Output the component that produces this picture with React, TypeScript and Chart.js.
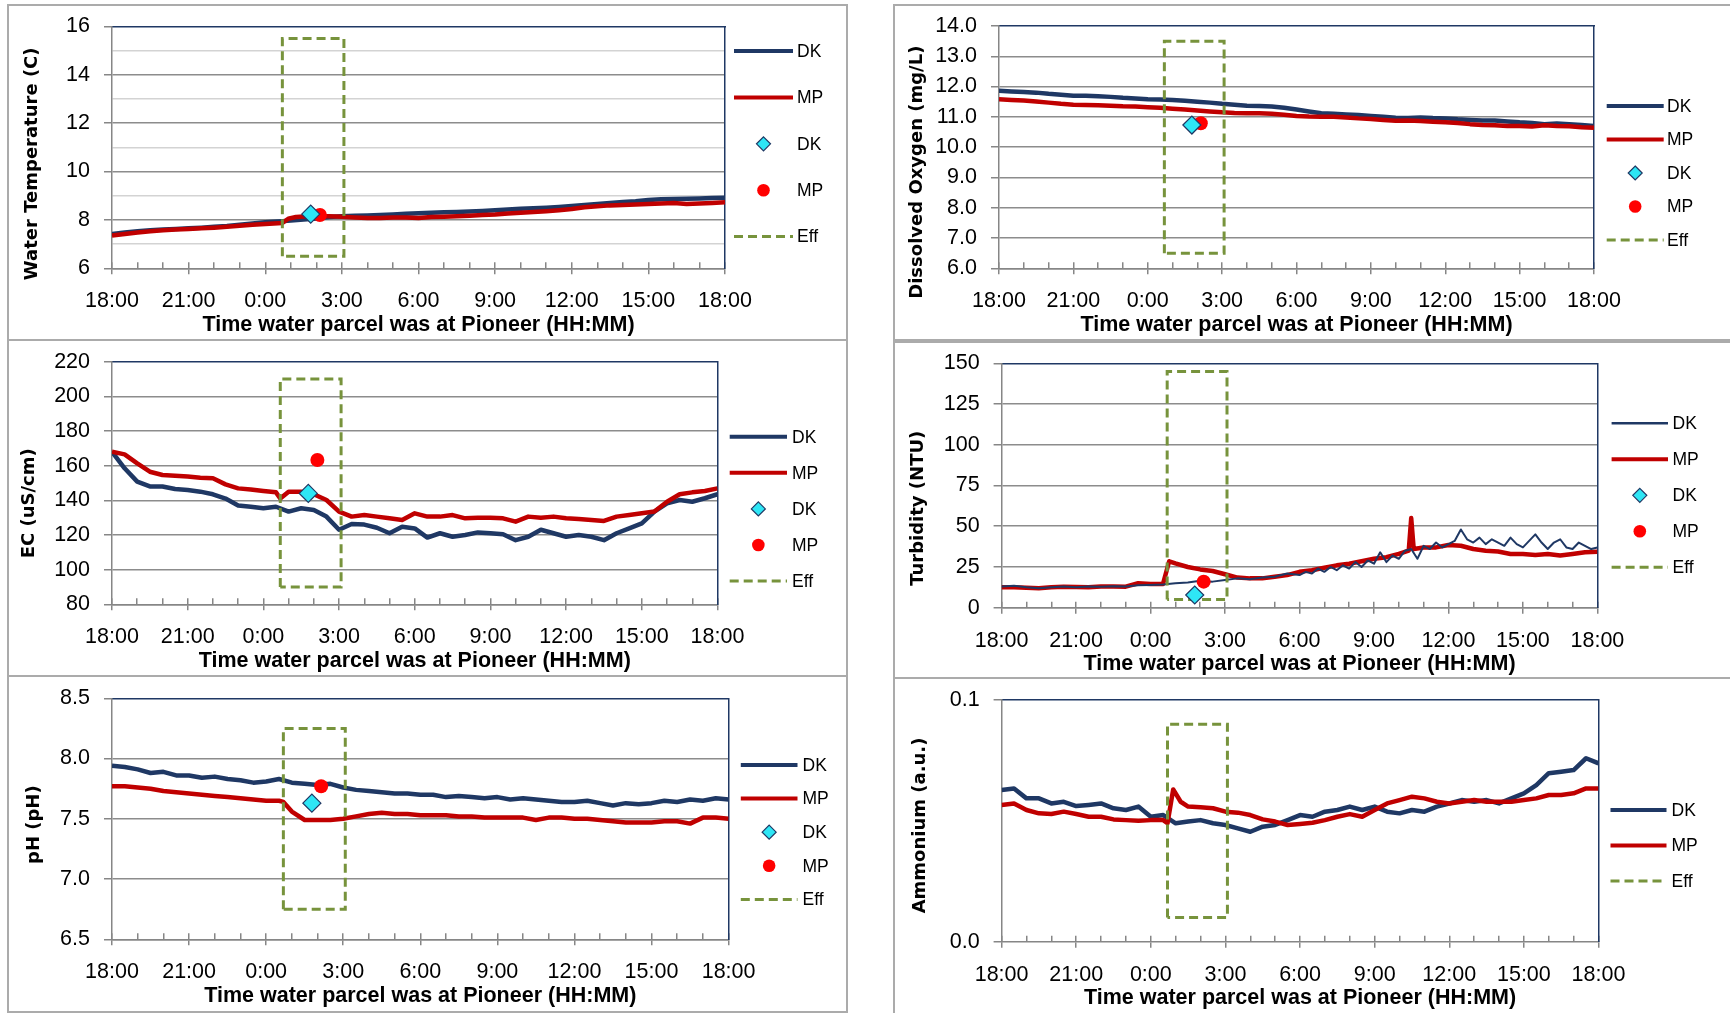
import React, { useEffect, useRef } from 'react';
import { Chart, registerables } from 'chart.js';
Chart.register(...registerables);

// ---------------- shared axis data ----------------
const HOURS = [0, 0.5, 1, 1.5, 2, 2.5, 3, 3.5, 4, 4.5, 5, 5.5, 6, 6.5, 7, 7.5, 8, 8.5, 9, 9.5, 10, 10.5, 11, 11.5, 12, 12.5, 13, 13.5, 14, 14.5, 15, 15.5, 16, 16.5, 17, 17.5, 18, 18.5, 19, 19.5, 20, 20.5, 21, 21.5, 22, 22.5, 23, 23.5, 24];
const X_TICK_LABELS = ['18:00', '21:00', '0:00', '3:00', '6:00', '9:00', '12:00', '15:00', '18:00'];
const X_TITLE = 'Time water parcel was at Pioneer (HH:MM)';
const EFF_HOURS = [6.67, 6.67, 9.08, 9.08, 6.67];
const GRAB_HOURS = [7.78, 8.14]; // DK, MP grab samples

// ---------------- Water temperature ----------------
const TEMP_DK = [7.42, 7.48, 7.53, 7.57, 7.6, 7.62, 7.65, 7.68, 7.72, 7.75, 7.8, 7.85, 7.9, 7.93, 7.97, 8.02, 8.06, 8.12, 8.15, 8.17, 8.18, 8.2, 8.22, 8.25, 8.27, 8.3, 8.32, 8.33, 8.35, 8.37, 8.4, 8.43, 8.46, 8.48, 8.5, 8.53, 8.57, 8.62, 8.66, 8.7, 8.74, 8.77, 8.82, 8.85, 8.86, 8.87, 8.88, 8.9, 8.92];
const TEMP_MP_HOURS = [0, 0.5, 1, 1.5, 2, 2.5, 3, 3.5, 4, 4.5, 5, 5.5, 6, 6.5, 6.67, 6.9, 7.2, 7.5, 8, 8.5, 9, 9.5, 10, 10.5, 11, 11.5, 12, 12.5, 13, 13.5, 14, 14.5, 15, 15.5, 16, 16.5, 17, 17.5, 18, 18.5, 19, 19.5, 20, 20.5, 21, 21.5, 22, 22.5, 23, 23.5, 24];
const TEMP_MP = [7.35, 7.42, 7.48, 7.53, 7.57, 7.6, 7.62, 7.65, 7.68, 7.72, 7.76, 7.8, 7.83, 7.86, 7.87, 8.05, 8.12, 8.14, 8.15, 8.15, 8.13, 8.1, 8.08, 8.08, 8.1, 8.1, 8.08, 8.12, 8.13, 8.15, 8.17, 8.2, 8.22, 8.26, 8.3, 8.33, 8.36, 8.4, 8.45, 8.52, 8.56, 8.6, 8.62, 8.64, 8.66, 8.68, 8.7, 8.66, 8.68, 8.7, 8.73];
const TEMP_GRAB = [8.24, 8.2];
const TEMP_EFF = [6.5, 15.5, 15.5, 6.5, 6.5];

// ---------------- Dissolved oxygen ----------------
const DO_DK = [11.86, 11.84, 11.82, 11.8, 11.76, 11.73, 11.7, 11.7, 11.68, 11.66, 11.63, 11.61, 11.58, 11.57, 11.56, 11.53, 11.5, 11.47, 11.43, 11.4, 11.37, 11.36, 11.34, 11.3, 11.24, 11.18, 11.12, 11.1, 11.08, 11.06, 11.03, 11.0, 10.97, 10.96, 10.98, 10.96, 10.95, 10.92, 10.9, 10.88, 10.88, 10.85, 10.82, 10.8, 10.76, 10.78, 10.76, 10.73, 10.7];
const DO_MP = [11.58, 11.56, 11.54, 11.51, 11.47, 11.43, 11.4, 11.39, 11.38, 11.37, 11.35, 11.34, 11.32, 11.3, 11.27, 11.24, 11.21, 11.18, 11.15, 11.13, 11.12, 11.12, 11.1, 11.07, 11.03, 11.01, 11.0, 11.0, 10.98, 10.95, 10.93, 10.9, 10.87, 10.88, 10.86, 10.84, 10.82, 10.8, 10.76, 10.73, 10.72, 10.7, 10.7, 10.68, 10.72, 10.7, 10.69, 10.66, 10.64];
const DO_GRAB = [10.73, 10.79];
const DO_EFF = [6.5, 13.5, 13.5, 6.5, 6.5];

// ---------------- EC ----------------
const EC_DK = [168, 158.5, 150.8, 148, 148, 146.5, 146, 145, 143.5, 141, 137, 136.3, 135.4, 136.3, 133.5, 135.4, 134.4, 130.6, 123, 126.3, 126, 124.2, 121, 124.8, 123.8, 118.5, 121, 119, 120, 121.5, 121, 120.4, 117, 119, 123, 121, 119, 120, 119, 117, 121, 123.8, 126.7, 133.5, 138.3, 140.2, 139.2, 141.2, 143.5];
const EC_MP_HOURS = [0, 0.5, 1, 1.5, 2, 2.5, 3, 3.5, 4, 4.5, 5, 5.5, 6, 6.5, 6.67, 7, 7.5, 8, 8.5, 9, 9.5, 10, 10.5, 11, 11.5, 12, 12.5, 13, 13.5, 14, 14.5, 15, 15.5, 16, 16.5, 17, 17.5, 18, 18.5, 19, 19.5, 20, 20.5, 21, 21.5, 22, 22.5, 23, 23.5, 24];
const EC_MP = [168, 166.5, 161.3, 156.5, 154.6, 154.2, 153.7, 153, 152.7, 149.2, 146.9, 146.3, 145.4, 144.6, 141, 145, 145, 143.5, 140.2, 133.5, 130.6, 131.5, 130.6, 129.6, 128.7, 132.5, 130.6, 130.6, 131.5, 129.6, 130, 130, 129.6, 127.7, 130.6, 130, 130.6, 129.6, 129.2, 128.7, 128.1, 130.6, 131.5, 132.5, 133.5, 139.2, 143.5, 144.6, 145.4, 146.9];
const EC_GRAB = [144, 163.3];
const EC_EFF = [90, 210, 210, 90, 90];

// ---------------- Turbidity ----------------
const TURB_DK_HOURS = [0, 0.5, 1, 1.5, 2, 2.5, 3, 3.5, 4, 4.5, 5, 5.5, 6, 6.5, 7, 7.5, 8, 8.5, 9, 9.5, 10, 10.5, 11, 11.5, 12, 12.25, 12.5, 12.75, 13, 13.25, 13.5, 13.75, 14, 14.25, 14.5, 14.75, 15, 15.25, 15.5, 15.75, 16, 16.25, 16.5, 16.75, 17, 17.25, 17.5, 17.75, 18, 18.25, 18.5, 18.75, 19, 19.25, 19.5, 19.75, 20, 20.25, 20.5, 20.75, 21, 21.25, 21.5, 21.75, 22, 22.25, 22.5, 22.75, 23, 23.25, 23.5, 23.75, 24];
const TURB_DK = [13, 13.5, 12.5, 12, 12.5, 13, 12.5, 13, 12.8, 13.2, 13, 13.8, 14, 14.2, 15, 15.5, 16.5, 16, 17, 18, 17.5, 18.5, 19, 21, 20, 22, 21, 24, 22, 25, 23, 26, 24, 28, 25, 29, 27, 34, 28, 32, 30, 35, 36, 30, 38, 36, 40, 37, 39, 41, 48, 42, 40, 43, 39, 42, 40, 38, 43, 39, 37, 41, 45, 40, 36, 40, 42, 37, 36, 40, 38, 36, 37];
const TURB_MP_HOURS = [0, 0.5, 1, 1.5, 2, 2.5, 3, 3.5, 4, 4.5, 5, 5.5, 6, 6.5, 6.75, 7, 7.5, 8, 8.5, 9, 9.5, 10, 10.5, 11, 11.5, 12, 12.5, 13, 13.5, 14, 14.5, 15, 15.5, 16, 16.4, 16.5, 16.6, 17, 17.5, 18, 18.5, 19, 19.5, 20, 20.5, 21, 21.5, 22, 22.5, 23, 23.5, 24];
const TURB_MP = [12.5, 12.5, 12.3, 12, 12.5, 12.8, 12.7, 12.5, 13, 13, 12.9, 15, 14.5, 14.5, 28.5, 27.2, 25, 23.5, 22.5, 20.5, 18.5, 18, 18, 19, 20, 22, 23, 24.5, 26, 27, 28.5, 30, 31, 33, 35, 55, 36, 37, 37, 38.5, 38, 36, 35, 34.5, 33, 33, 32.3, 33, 32, 33, 34, 34.4];
const TURB_GRAB = [7.8, 16];
const TURB_EFF = [5, 145, 145, 5, 5];

// ---------------- pH ----------------
const PH_DK = [7.94, 7.93, 7.91, 7.88, 7.89, 7.86, 7.86, 7.84, 7.85, 7.83, 7.82, 7.8, 7.81, 7.83, 7.8, 7.79, 7.78, 7.79, 7.76, 7.74, 7.73, 7.72, 7.71, 7.71, 7.7, 7.7, 7.68, 7.69, 7.68, 7.67, 7.68, 7.66, 7.67, 7.66, 7.65, 7.64, 7.64, 7.65, 7.63, 7.61, 7.63, 7.62, 7.63, 7.65, 7.64, 7.66, 7.65, 7.67, 7.66];
const PH_MP_HOURS = [0, 0.5, 1, 1.5, 2, 2.5, 3, 3.5, 4, 4.5, 5, 5.5, 6, 6.5, 6.67, 7, 7.5, 8, 8.5, 9, 9.5, 10, 10.5, 11, 11.5, 12, 12.5, 13, 13.5, 14, 14.5, 15, 15.5, 16, 16.5, 17, 17.5, 18, 18.5, 19, 19.5, 20, 20.5, 21, 21.5, 22, 22.5, 23, 23.5, 24];
const PH_MP = [7.77, 7.77, 7.76, 7.75, 7.73, 7.72, 7.71, 7.7, 7.69, 7.68, 7.67, 7.66, 7.65, 7.65, 7.64, 7.56, 7.49, 7.49, 7.49, 7.5, 7.52, 7.54, 7.55, 7.54, 7.54, 7.53, 7.53, 7.53, 7.52, 7.52, 7.51, 7.51, 7.51, 7.51, 7.49, 7.51, 7.51, 7.5, 7.5, 7.49, 7.48, 7.47, 7.47, 7.47, 7.48, 7.48, 7.46, 7.51, 7.51, 7.5];
const PH_GRAB = [7.63, 7.77];
const PH_EFF = [6.75, 8.25, 8.25, 6.75, 6.75];

// ---------------- Ammonium ----------------
const NH4_DK = [0.0628, 0.0634, 0.0593, 0.0593, 0.0572, 0.0579, 0.0561, 0.0566, 0.0572, 0.0552, 0.0545, 0.0559, 0.0517, 0.0524, 0.049, 0.0497, 0.0503, 0.049, 0.0483, 0.0469, 0.0455, 0.0476, 0.0483, 0.0503, 0.0524, 0.0517, 0.0538, 0.0545, 0.0559, 0.0545, 0.0559, 0.0538, 0.0531, 0.0545, 0.0538, 0.0559, 0.0572, 0.0586, 0.0579, 0.0586, 0.0572, 0.0593, 0.0614, 0.0648, 0.0697, 0.0703, 0.071, 0.0759, 0.0738];
const NH4_MP_HOURS = [0, 0.5, 1, 1.5, 2, 2.5, 3, 3.5, 4, 4.5, 5, 5.5, 6, 6.5, 6.67, 6.9, 7.2, 7.5, 8, 8.5, 9, 9.5, 10, 10.5, 11, 11.5, 12, 12.5, 13, 13.5, 14, 14.5, 15, 15.5, 16, 16.5, 17, 17.5, 18, 18.5, 19, 19.5, 20, 20.5, 21, 21.5, 22, 22.5, 23, 23.5, 24];
const NH4_MP = [0.0566, 0.0572, 0.0545, 0.0531, 0.0528, 0.0538, 0.0528, 0.0517, 0.0517, 0.0506, 0.0503, 0.05, 0.0503, 0.0503, 0.049, 0.063, 0.0579, 0.0559, 0.0556, 0.0552, 0.0538, 0.0534, 0.0524, 0.0506, 0.0497, 0.0483, 0.0487, 0.0492, 0.0503, 0.0517, 0.0528, 0.0517, 0.0545, 0.0572, 0.0586, 0.06, 0.0593, 0.0579, 0.0572, 0.0579, 0.0586, 0.0579, 0.0579, 0.0579, 0.0586, 0.0593, 0.0607, 0.0607, 0.0614, 0.0634, 0.0634];
const NH4_EFF = [0.01, 0.09, 0.09, 0.01, 0.01];

// ---------------- styles ----------------
const NAVY = '#1F3864';
const RED = '#C00000';
const CYAN = '#2EE6F5';
const DOT_RED = '#FF0000';
const EFF_GREEN = '#77933C';
const AXIS_GRAY = '#868686';
const GRID_GRAY = '#8C8C8C';
const GRID_LIGHT = '#D3D3D3';
const SANS = '"Liberation Sans", Arial, sans-serif';
const PAGE_W = 1730;
const X_AXIS_H = 66.6;
const LINE_W = 4.5;

const pts = (xs: number[], ys: number[]) => xs.map((x, i) => ({ x, y: ys[i] }));

function lineDs(label: string, xs: number[], ys: number[], color: string, width: number, order: number) {
  return {
    label, data: pts(xs, ys), showLine: true, borderColor: color, backgroundColor: color,
    borderWidth: width, pointRadius: 0, pointHoverRadius: 0, tension: 0, order,
    borderJoinStyle: 'round', legendWidth: width >= 4 ? 4 : 2.5,
  };
}
function grabDs(label: string, x: number, y: number, kind: 'diamond' | 'circle') {
  const diamond = kind === 'diamond';
  return {
    label, data: [{ x, y }], showLine: false,
    pointStyle: diamond ? 'rectRot' : 'circle',
    pointRadius: diamond ? 9 : 7, pointHoverRadius: diamond ? 9 : 7,
    backgroundColor: diamond ? CYAN : DOT_RED, borderColor: diamond ? NAVY : DOT_RED,
    borderWidth: diamond ? 1.2 : 0, order: 1, legendRadius: diamond ? 7 : 6.3,
  };
}
function effDs(ys: number[]) {
  return {
    label: 'Eff', data: pts(EFF_HOURS, ys), showLine: true, borderColor: EFF_GREEN,
    backgroundColor: EFF_GREEN, borderWidth: 3, borderDash: [9, 5], pointRadius: 0,
    pointHoverRadius: 0, tension: 0, order: 2, borderJoinStyle: 'miter', legendWidth: 3,
  };
}
function standard(dk: any, mp: any, grab: number[] | null, eff: number[]) {
  const list: any[] = [dk, mp];
  if (grab) {
    list.push(grabDs('DK', GRAB_HOURS[0], grab[0], 'diamond'));
    list.push(grabDs('MP', GRAB_HOURS[1], grab[1], 'circle'));
  }
  list.push(effDs(eff));
  return list;
}

type Spec = {
  frame: number[]; plot: number[];
  yMin: number; yMax: number; yStep: number;
  yLabel: (v: number) => string;
  gridColor: (v: number, max: number) => string;
  tickColor: (v: number) => string;
  title: string; titlePos: number[];
  legend: number[]; // lineX0, lineX1, textX, firstY, spacing (page coords)
  datasets: any[];
};

const near = (a: number, b: number) => Math.abs(a - b) < 1e-6;
const plainGrid = (v: number, max: number) => (near(v, max) ? 'rgba(0,0,0,0)' : GRID_GRAY);
const allTicks = () => AXIS_GRAY;

const SPECS: Spec[] = [
  {
    frame: [7, 4, 841, 337], plot: [112, 26.3, 725, 268.3],
    yMin: 6, yMax: 16, yStep: 1,
    yLabel: (v) => (Math.round(v) % 2 === 0 ? String(Math.round(v)) : ''),
    gridColor: (v, max) => (near(v, max) ? 'rgba(0,0,0,0)' : Math.round(v) % 2 === 0 ? GRID_GRAY : GRID_LIGHT),
    tickColor: (v) => (Math.round(v) % 2 === 0 ? AXIS_GRAY : 'rgba(0,0,0,0)'),
    title: 'Water Temperature (C)', titlePos: [32.5, 163.8],
    legend: [734, 793, 797, 51, 46.4],
    datasets: standard(lineDs('DK', HOURS, TEMP_DK, NAVY, LINE_W, 4), lineDs('MP', TEMP_MP_HOURS, TEMP_MP, RED, LINE_W, 3), TEMP_GRAB, TEMP_EFF),
  },
  {
    frame: [893, 4, 900, 337], plot: [999, 26, 1594, 268.3],
    yMin: 6, yMax: 14, yStep: 1,
    yLabel: (v) => v.toFixed(1), gridColor: plainGrid, tickColor: allTicks,
    title: 'Dissolved Oxygen (mg/L)', titlePos: [917, 172.2],
    legend: [1606.7, 1663.7, 1667, 106, 33.5],
    datasets: standard(lineDs('DK', HOURS, DO_DK, NAVY, LINE_W, 4), lineDs('MP', HOURS, DO_MP, RED, LINE_W, 3), DO_GRAB, DO_EFF),
  },
  {
    frame: [7, 339, 841, 338], plot: [112, 361.7, 717.5, 604.3],
    yMin: 80, yMax: 220, yStep: 20,
    yLabel: (v) => String(Math.round(v)), gridColor: plainGrid, tickColor: allTicks,
    title: 'EC (uS/cm)', titlePos: [29.1, 503.3],
    legend: [729.7, 787, 792, 436.7, 36.1],
    datasets: standard(lineDs('DK', HOURS, EC_DK, NAVY, LINE_W, 4), lineDs('MP', EC_MP_HOURS, EC_MP, RED, LINE_W, 3), EC_GRAB, EC_EFF),
  },
  {
    frame: [893, 341, 900, 338], plot: [1001.6, 363.3, 1597.4, 607.7],
    yMin: 0, yMax: 150, yStep: 25,
    yLabel: (v) => String(Math.round(v)), gridColor: plainGrid, tickColor: allTicks,
    title: 'Turbidity (NTU)', titlePos: [918, 508.3],
    legend: [1611.6, 1668, 1672.5, 423.3, 36],
    datasets: standard(lineDs('DK', TURB_DK_HOURS, TURB_DK, NAVY, 2, 3), lineDs('MP', TURB_MP_HOURS, TURB_MP, RED, LINE_W, 4), TURB_GRAB, TURB_EFF),
  },
  {
    frame: [7, 675, 841, 338], plot: [112, 698.3, 728.6, 939.3],
    yMin: 6.5, yMax: 8.5, yStep: 0.5,
    yLabel: (v) => v.toFixed(1), gridColor: plainGrid, tickColor: allTicks,
    title: 'pH (pH)', titlePos: [34.2, 824.7],
    legend: [740.8, 797.5, 802.5, 765, 33.6],
    datasets: standard(lineDs('DK', HOURS, PH_DK, NAVY, LINE_W, 4), lineDs('MP', PH_MP_HOURS, PH_MP, RED, LINE_W, 3), PH_GRAB, PH_EFF),
  },
  {
    frame: [893, 677, 900, 338], plot: [1001.6, 700, 1598.5, 941.7],
    yMin: 0, yMax: 0.1, yStep: 0.1,
    yLabel: (v) => v.toFixed(1), gridColor: () => 'rgba(0,0,0,0)', tickColor: allTicks,
    title: 'Ammonium (a.u.)', titlePos: [920.5, 825.5],
    legend: [1610.5, 1666.5, 1671.5, 810, 35.5],
    datasets: standard(lineDs('DK', HOURS, NH4_DK, NAVY, LINE_W, 4), lineDs('MP', NH4_MP_HOURS, NH4_MP, RED, LINE_W, 3), null, NH4_EFF),
  },
];

const decorPlugin = {
  id: 'panelDecor',
  afterDraw(chart: any, _args: any, opts: any) {
    const ctx = chart.ctx as CanvasRenderingContext2D;
    ctx.save();
    ctx.translate(opts.titleX, opts.titleY);
    ctx.rotate(-Math.PI / 2);
    ctx.font = 'bold 18px "DejaVu Sans", Verdana, sans-serif';
    ctx.fillStyle = '#000';
    ctx.textAlign = 'center';
    ctx.textBaseline = 'middle';
    ctx.fillText(opts.title, 0, 0);
    ctx.restore();

    const [x0, x1, tx, y0, dy] = opts.legend;
    chart.data.datasets.forEach((ds: any, i: number) => {
      const y = y0 + i * dy;
      ctx.save();
      if (ds.showLine) {
        ctx.beginPath();
        ctx.setLineDash(ds.borderDash || []);
        ctx.lineWidth = ds.legendWidth || ds.borderWidth;
        ctx.strokeStyle = ds.borderColor;
        ctx.lineCap = 'butt';
        ctx.moveTo(x0, y);
        ctx.lineTo(x1, y);
        ctx.stroke();
      } else {
        const cx = (x0 + x1) / 2;
        const r = ds.legendRadius;
        ctx.beginPath();
        if (ds.pointStyle === 'rectRot') {
          ctx.moveTo(cx, y - r); ctx.lineTo(cx + r, y); ctx.lineTo(cx, y + r); ctx.lineTo(cx - r, y); ctx.closePath();
        } else {
          ctx.arc(cx, y, r, 0, Math.PI * 2);
        }
        ctx.fillStyle = ds.backgroundColor;
        ctx.fill();
        if (ds.borderWidth) { ctx.lineWidth = ds.borderWidth; ctx.strokeStyle = ds.borderColor; ctx.stroke(); }
      }
      ctx.setLineDash([]);
      ctx.font = '17.5px ' + SANS;
      ctx.fillStyle = '#000';
      ctx.textAlign = 'left';
      ctx.textBaseline = 'middle';
      ctx.fillText(ds.label, tx, y + 1);
      ctx.restore();
    });
  },
};

function geometry(spec: Spec) {
  const [fx, fy, fw, fh] = spec.frame;
  const cx = fx + 2, cy = fy + 2;
  const W = Math.min(fw - 4, PAGE_W - cx);
  const H = fh - 4;
  return { cx, cy, W, H };
}

function buildConfig(spec: Spec): any {
  const { cx, cy, W, H } = geometry(spec);
  const [pl, pt, pr, pb] = spec.plot;
  const L = pl - cx, T = pt - cy, R = pr - cx, B = pb - cy;
  const [lx0, lx1, ltx, ly0, ldy] = spec.legend;
  return {
    type: 'scatter',
    data: { datasets: spec.datasets },
    plugins: [decorPlugin],
    options: {
      animation: false, responsive: false, maintainAspectRatio: false, devicePixelRatio: 1,
      events: [],
      layout: { padding: { left: 0, top: T, right: W - R, bottom: H - B - X_AXIS_H } },
      plugins: {
        legend: { display: false }, tooltip: { enabled: false }, title: { display: false },
        panelDecor: {
          title: spec.title, titleX: spec.titlePos[0] - cx, titleY: spec.titlePos[1] - cy,
          legend: [lx0 - cx, lx1 - cx, ltx - cx, ly0 - cy, ldy],
        },
      },
      scales: {
        x: {
          type: 'linear', position: 'bottom', weight: 1, min: 0, max: 24,
          ticks: {
            stepSize: 3, autoSkip: false, maxRotation: 0, minRotation: 0, padding: 14, color: '#000',
            font: { family: SANS, size: 21.5 },
            callback: (v: number) => X_TICK_LABELS[Math.round(v / 3)] ?? '',
          },
          grid: { drawOnChartArea: false, drawTicks: true, tickLength: 6, color: AXIS_GRAY, lineWidth: 1.5 },
          border: { display: true, color: AXIS_GRAY, width: 1.5 },
          title: {
            display: true, text: X_TITLE, color: '#000', padding: { top: 0, bottom: 0 },
            font: { family: SANS, size: 21.5, weight: 'bold', lineHeight: 0.95 },
          },
          afterFit: (s: any) => { s.height = X_AXIS_H; },
        },
        xMinor: {
          type: 'linear', position: 'bottom', weight: 0, min: 0, max: 24,
          ticks: { stepSize: 1, display: false, autoSkip: false },
          grid: { drawOnChartArea: false, drawTicks: true, tickLength: -6, color: AXIS_GRAY, lineWidth: 1.5 },
          border: { display: false },
          afterFit: (s: any) => { s.height = 0; },
        },
        xTop: {
          type: 'linear', position: 'top', min: 0, max: 24,
          ticks: { display: false }, grid: { display: false },
          border: { display: true, color: NAVY, width: 1.5 },
          afterFit: (s: any) => { s.height = 0; },
        },
        y: {
          type: 'linear', position: 'left', min: spec.yMin, max: spec.yMax,
          ticks: {
            stepSize: spec.yStep, autoSkip: false, padding: 14, color: '#000',
            font: { family: SANS, size: 21.5, lineHeight: 0.4 },
            callback: (v: number) => spec.yLabel(v),
          },
          grid: {
            drawOnChartArea: true, drawTicks: true, tickLength: 8, lineWidth: 1.5, tickWidth: 1.5,
            color: (c: any) => spec.gridColor(c.tick ? c.tick.value : 0, spec.yMax),
            tickColor: (c: any) => spec.tickColor(c.tick ? c.tick.value : 0),
          },
          border: { display: true, color: AXIS_GRAY, width: 1.5 },
          afterFit: (s: any) => { s.width = L; },
        },
        yRight: {
          type: 'linear', position: 'right', min: spec.yMin, max: spec.yMax,
          ticks: { display: false }, grid: { display: false },
          border: { display: true, color: NAVY, width: 1.5 },
          afterFit: (s: any) => { s.width = 0; },
        },
      },
    },
  };
}

function Panel({ spec }: { spec: Spec }) {
  const ref = useRef<HTMLCanvasElement>(null);
  const { cx, cy, W, H } = geometry(spec);
  useEffect(() => {
    if (!ref.current) return;
    const chart = new Chart(ref.current, buildConfig(spec));
    return () => chart.destroy();
  }, [spec]);
  const [fx, fy, fw, fh] = spec.frame;
  return (
    <>
      <div style={{ position: 'absolute', left: fx, top: fy, width: fw - 4, height: fh - 4, border: '2px solid #ABABAB' }} />
      <canvas ref={ref} width={W} height={H} style={{ position: 'absolute', left: cx, top: cy, width: W, height: H }} />
    </>
  );
}

export default function App() {
  return (
    <div style={{ position: 'fixed', left: 0, top: 0, width: 1730, height: 1013, overflow: 'hidden', background: '#fff' }}>
      {SPECS.map((s, i) => <Panel key={i} spec={s} />)}
    </div>
  );
}
